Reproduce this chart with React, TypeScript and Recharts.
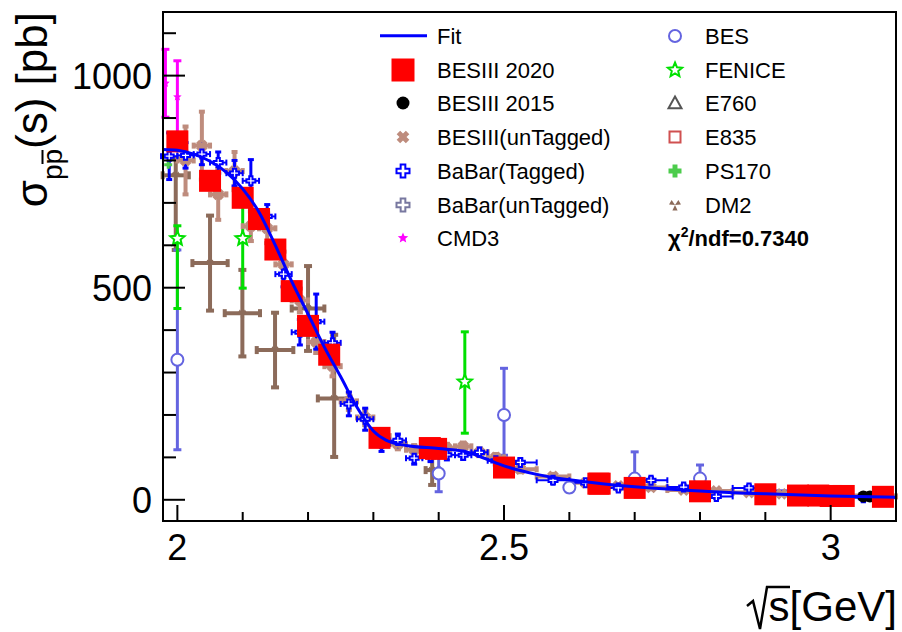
import React from 'react';
import { ComposedChart, Line, Scatter, XAxis, YAxis, ErrorBar } from 'recharts';

const W = 902;
const H = 632;
const PLOT = { left: 163, right: 896, top: 12, bottom: 521 };
const X_DOMAIN: [number, number] = [1.978, 3.1];
const Y_DOMAIN: [number, number] = [-50, 1150];
const X_TICKS = [2.0, 2.1, 2.2, 2.3, 2.4, 2.5, 2.6, 2.7, 2.8, 2.9, 3.0];
const X_MAJOR = [2, 2.5, 3];
const Y_TICKS = [0, 100, 200, 300, 400, 500, 600, 700, 800, 900, 1000, 1100];
const Y_MAJOR = [0, 500, 1000];
const FONT = '"Liberation Sans", Arial, Helvetica, sans-serif';

// Fit curve [sqrt(s), sigma]
const FIT: [number, number][] = [
  [1.978, 826], [2.0, 824], [2.025, 815], [2.05, 798], [2.075, 772], [2.1, 733],
  [2.125, 678], [2.15, 600], [2.175, 515], [2.2, 438], [2.225, 360], [2.25, 290],
  [2.275, 218], [2.3, 162], [2.32, 140], [2.35, 128], [2.4, 121], [2.44, 114],
  [2.47, 98], [2.5, 80], [2.55, 60], [2.6, 47], [2.65, 38], [2.7, 31], [2.8, 21],
  [2.9, 14], [3.0, 9], [3.1, 6],
];

// [x, y, ey]
const BESIII_2020: [number, number, number][] = [
  [2.0, 845, 20], [2.05, 752, 18], [2.1, 712, 16], [2.125, 662, 14], [2.15, 590, 14],
  [2.175, 492, 12], [2.2, 410, 12], [2.2324, 342, 10], [2.3094, 146, 6], [2.3864, 122, 6],
  [2.396, 120, 5], [2.5, 76, 5], [2.6444, 38, 2], [2.6464, 38, 2], [2.7, 28, 3],
  [2.8, 20, 3], [2.9, 13, 2], [2.95, 10, 2], [2.981, 10, 2], [3.0, 9, 2], [3.02, 9, 2], [3.08, 7, 1],
];

const BESIII_2015: [number, number][] = [
  [2.2324, 352], [2.4, 118], [2.8, 20], [3.05, 8], [3.06, 8], [3.08, 7],
];

// [x, y, ex, ey]
const BESIII_UNTAG: [number, number, number, number][] = [
  [2.0125, 800, 0.0125, 80], [2.0375, 835, 0.0125, 80], [2.0625, 720, 0.0125, 60],
  [2.0875, 775, 0.0125, 45], [2.1125, 645, 0.0125, 35], [2.1375, 640, 0.0125, 35],
  [2.1625, 555, 0.0125, 30], [2.1875, 470, 0.0125, 28], [2.2125, 372, 0.0125, 26],
  [2.2375, 315, 0.0125, 24], [2.2625, 232, 0.0125, 20], [2.2875, 194, 0.0125, 18],
  [2.3125, 150, 0.0125, 14], [2.3375, 131, 0.0125, 12], [2.3625, 118, 0.0125, 11],
  [2.3875, 120, 0.0125, 10], [2.4125, 122, 0.0125, 10], [2.4375, 126, 0.0125, 9],
  [2.4625, 112, 0.0125, 9], [2.4875, 100, 0.0125, 8], [2.525, 72, 0.025, 7],
  [2.575, 55, 0.025, 6], [2.625, 40, 0.025, 5], [2.675, 33, 0.025, 4],
  [2.725, 29, 0.025, 4], [2.775, 23, 0.025, 3], [2.825, 21, 0.025, 3],
  [2.875, 17, 0.025, 3], [2.925, 14, 0.025, 2], [2.975, 12, 0.025, 2],
  [3.025, 10, 0.025, 2], [3.075, 8, 0.025, 2],
];

const BABAR_TAG: [number, number, number, number][] = [
  [1.9875, 810, 0.0125, 55], [2.0125, 812, 0.0125, 30], [2.0375, 815, 0.0125, 25],
  [2.0625, 795, 0.0125, 25], [2.0875, 770, 0.0125, 30], [2.1125, 752, 0.0125, 50],
  [2.1375, 668, 0.0125, 28], [2.1625, 532, 0.0125, 30], [2.1875, 395, 0.0125, 30],
  [2.2125, 420, 0.0125, 65], [2.2375, 370, 0.0125, 25], [2.2625, 226, 0.0125, 28],
  [2.2875, 190, 0.0125, 26], [2.3125, 132, 0.0125, 18], [2.3375, 140, 0.0125, 15],
  [2.3625, 98, 0.0125, 14], [2.3875, 102, 0.0125, 12], [2.4125, 106, 0.0125, 12],
  [2.4375, 105, 0.0125, 10], [2.4625, 112, 0.0125, 10], [2.4875, 92, 0.0125, 10],
  [2.525, 88, 0.025, 9], [2.575, 46, 0.025, 7], [2.625, 40, 0.025, 6],
  [2.675, 28, 0.025, 5], [2.725, 46, 0.025, 6], [2.775, 30, 0.025, 5],
  [2.825, 8, 0.025, 5], [2.875, 28, 0.025, 5], [2.95, 22, 0.05, 5], [3.05, 5, 0.05, 4],
];

const BABAR_UNTAG: [number, number, number][] = [[3.0, 8, 2], [3.08, 6, 2]];

const CMD3: [number, number, number][] = [[1.9817, 982, 80], [2.0, 950, 85]];

// [x, y, errLow, errHigh]
const BES: [number, number, number, number][] = [
  [2.0, 330, 212, 259], [2.4, 62, 43, 39], [2.5, 200, 95, 110], [2.6, 29, 10, 10],
  [2.7, 50, 20, 63], [2.8, 50, 15, 32], [2.9, 12, 6, 6], [3.0, 9, 5, 5],
];

const FENICE: [number, number, number, number][] = [
  [2.0, 616, 165, 30], [2.1, 616, 117, 75], [2.44, 278, 121, 118],
];

const E760: [number, number][] = [[2.98, 11]];
const E835: [number, number][] = [[2.99, 10], [3.0, 9]];
const PS170: [number, number][] = [[1.986, 790]];

// [x, y, ex, errLow, errHigh]
const DM2: [number, number, number, number, number][] = [
  [1.9975, 765, 0.02, 176, 40], [2.05, 558, 0.027, 112, 112], [2.0995, 440, 0.027, 102, 102],
  [2.1495, 353, 0.028, 88, 88], [2.2, 451, 0.025, 100, 100], [2.24, 239, 0.025, 138, 150],
  [2.39, 70, 0.01, 35, 35],
];

const C = {
  fit: '#0000ff',
  b2020: '#ff0000',
  b2015: '#000000',
  untag: '#be8c7d',
  babarT: '#0000ff',
  babarU: '#7878a0',
  cmd3: '#ff00ff',
  bes: '#6464e0',
  fenice: '#00e000',
  e760: '#555555',
  e835: '#d05050',
  ps170: '#4ccc4c',
  dm2: '#8c6b5a',
};

function plusPts(cx: number, cy: number, L: number, a: number) {
  const p = [
    [-a, -L], [a, -L], [a, -a], [L, -a], [L, a], [a, a], [a, L], [-a, L], [-a, a], [-L, a], [-L, -a], [-a, -a],
  ];
  return p.map(([x, y]) => `${cx + x},${cy + y}`).join(' ');
}
function starPts(cx: number, cy: number, R: number, r: number) {
  const out: string[] = [];
  for (let i = 0; i < 10; i++) {
    const ang = -Math.PI / 2 + (i * Math.PI) / 5;
    const rr = i % 2 === 0 ? R : r;
    out.push(`${cx + rr * Math.cos(ang)},${cy + rr * Math.sin(ang)}`);
  }
  return out.join(' ');
}

function Marker({ kind, cx, cy, size, color }: { kind: string; cx: number; cy: number; size: number; color: string }) {
  const h = size / 2;
  if (cx == null || cy == null || isNaN(cx) || isNaN(cy)) return null;
  switch (kind) {
    case 'square':
      return <rect x={cx - h} y={cy - h} width={size} height={size} fill={color} />;
    case 'circle':
      return <circle cx={cx} cy={cy} r={h} fill={color} />;
    case 'ocircle':
      return <circle cx={cx} cy={cy} r={h - 1} fill="#fff" stroke={color} strokeWidth={2} />;
    case 'osquare':
      return <rect x={cx - h + 1} y={cy - h + 1} width={size - 2} height={size - 2} fill="#fff" stroke={color} strokeWidth={2} />;
    case 'otri':
      return <polygon points={`${cx},${cy - h} ${cx + h},${cy + h * 0.8} ${cx - h},${cy + h * 0.8}`} fill="#fff" stroke={color} strokeWidth={2} />;
    case 'xcross':
      return <polygon points={plusPts(cx, cy, h, h * 0.38)} transform={`rotate(45 ${cx} ${cy})`} fill={color} />;
    case 'ocross':
      return <polygon points={plusPts(cx, cy, h, h * 0.36)} fill="#fff" stroke={color} strokeWidth={2} />;
    case 'fcross':
      return <polygon points={plusPts(cx, cy, h, h * 0.38)} fill={color} />;
    case 'star':
      return <polygon points={starPts(cx, cy, h, h * 0.45)} fill={color} />;
    case 'ostar':
      return <polygon points={starPts(cx, cy, h, h * 0.45)} fill="#fff" stroke={color} strokeWidth={2} />;
    case 'dm2': {
      const blades = [210, 330, 90].map((deg) => {
        const a = (deg * Math.PI) / 180;
        const a1 = a - 0.45;
        const a2 = a + 0.45;
        return `M${cx},${cy} L${cx + h * Math.cos(a1)},${cy + h * Math.sin(a1)} L${cx + h * Math.cos(a2)},${cy + h * Math.sin(a2)} Z`;
      });
      return <path d={blades.join(' ')} fill={color} />;
    }
    default:
      return null;
  }
}

const shapeOf = (kind: string, size: number, color: string) => (p: any) => (
  <Marker kind={kind} cx={p.cx} cy={p.cy} size={size} color={color} />
);

const fmt = (v: number) => String(v);

const XTick = (p: any) => {
  const v = p.payload.value;
  const major = X_MAJOR.some((m) => Math.abs(m - v) < 1e-6);
  const x = p.x;
  return (
    <g>
      <line x1={x} x2={x} y1={PLOT.bottom} y2={PLOT.bottom - (major ? 16 : 9)} stroke="#000" strokeWidth={2} />
      {major && (
        <text x={x} y={560} textAnchor="middle" fontSize={36} fontFamily={FONT} fill="#000">
          {fmt(v)}
        </text>
      )}
    </g>
  );
};

const YTick = (p: any) => {
  const v = p.payload.value;
  const major = Y_MAJOR.includes(v);
  const y = p.y;
  return (
    <g>
      <line x1={PLOT.left} x2={PLOT.left + (major ? 22 : 13)} y1={y} y2={y} stroke="#000" strokeWidth={2} />
      {major && (
        <text x={152} y={y + 13} textAnchor="end" fontSize={36} fontFamily={FONT} fill="#000">
          {fmt(v)}
        </text>
      )}
    </g>
  );
};

const LEG_ROWS = [44, 78, 111, 145, 179, 213, 246];
const LEG_LEFT = [
  { label: 'Fit', kind: 'line', size: 0, color: C.fit },
  { label: 'BESIII 2020', kind: 'square', size: 23, color: C.b2020 },
  { label: 'BESIII 2015', kind: 'circle', size: 13, color: C.b2015 },
  { label: 'BESIII(unTagged)', kind: 'xcross', size: 13, color: C.untag },
  { label: 'BaBar(Tagged)', kind: 'ocross', size: 13, color: C.babarT },
  { label: 'BaBar(unTagged)', kind: 'ocross', size: 13, color: C.babarU },
  { label: 'CMD3', kind: 'star', size: 11, color: C.cmd3 },
];
const LEG_RIGHT = [
  { label: 'BES', kind: 'ocircle', size: 14, color: C.bes },
  { label: 'FENICE', kind: 'ostar', size: 15, color: C.fenice },
  { label: 'E760', kind: 'otri', size: 13, color: C.e760 },
  { label: 'E835', kind: 'osquare', size: 13, color: C.e835 },
  { label: 'PS170', kind: 'fcross', size: 13, color: C.ps170 },
  { label: 'DM2', kind: 'dm2', size: 12, color: C.dm2 },
];

export default function App() {
  const fitData = FIT.map(([x, y]) => ({ x, y }));
  const b2020 = BESIII_2020.map(([x, y, ey]) => ({ x, y, ey }));
  const b2015 = BESIII_2015.map(([x, y]) => ({ x, y }));
  const untag = BESIII_UNTAG.map(([x, y, ex, ey]) => ({ x, y, ex, ey }));
  const babT = BABAR_TAG.map(([x, y, ex, ey]) => ({ x, y, ex, ey }));
  const babU = BABAR_UNTAG.map(([x, y, ey]) => ({ x, y, ey }));
  const cmd3 = CMD3.map(([x, y, ey]) => ({ x, y, ey }));
  const bes = BES.map(([x, y, lo, hi]) => ({ x, y, ey: [lo, hi] }));
  const fen = FENICE.map(([x, y, lo, hi]) => ({ x, y, ey: [lo, hi] }));
  const e760 = E760.map(([x, y]) => ({ x, y }));
  const e835 = E835.map(([x, y]) => ({ x, y }));
  const ps170 = PS170.map(([x, y]) => ({ x, y }));
  const dm2 = DM2.map(([x, y, ex, lo, hi]) => ({ x, y, ex, ey: [lo, hi] }));

  const lineProps: any = { zIndex: 2000 };

  return (
    <div style={{ position: 'absolute', left: 0, top: 0, width: W, height: H, background: '#fff' }}>
      <ComposedChart
        width={W}
        height={H}
        margin={{ top: PLOT.top, right: W - PLOT.right, bottom: 0, left: 0 }}
      >
        <XAxis
          dataKey="x"
          type="number"
          domain={X_DOMAIN}
          allowDataOverflow
          ticks={X_TICKS}
          interval={0}
          height={H - PLOT.bottom}
          tick={(p: any) => <XTick {...p} />}
          tickLine={false}
          axisLine={{ stroke: '#000', strokeWidth: 2 }}
        />
        <YAxis
          type="number"
          domain={Y_DOMAIN}
          allowDataOverflow
          ticks={Y_TICKS}
          interval={0}
          width={PLOT.left}
          tick={(p: any) => <YTick {...p} />}
          tickLine={false}
          axisLine={{ stroke: '#000', strokeWidth: 2 }}
        />
        <Scatter data={dm2} dataKey="y" isAnimationActive={false} shape={shapeOf('dm2', 9, C.dm2)}>
          <ErrorBar dataKey="ey" direction="y" width={4} strokeWidth={4} stroke={C.dm2} />
          <ErrorBar dataKey="ex" direction="x" width={4} strokeWidth={4} stroke={C.dm2} />
        </Scatter>
        <Scatter data={bes} dataKey="y" isAnimationActive={false} shape={shapeOf('ocircle', 14, C.bes)}>
          <ErrorBar dataKey="ey" direction="y" width={4} strokeWidth={3} stroke={C.bes} />
        </Scatter>
        <Scatter data={fen} dataKey="y" isAnimationActive={false} shape={shapeOf('ostar', 15, C.fenice)}>
          <ErrorBar dataKey="ey" direction="y" width={4} strokeWidth={3} stroke={C.fenice} />
        </Scatter>
        <Scatter data={ps170} dataKey="y" isAnimationActive={false} shape={shapeOf('fcross', 8, C.ps170)} />
        <Scatter data={e760} dataKey="y" isAnimationActive={false} shape={shapeOf('otri', 12, C.e760)} />
        <Scatter data={e835} dataKey="y" isAnimationActive={false} shape={shapeOf('osquare', 12, C.e835)} />
        <Scatter data={babU} dataKey="y" isAnimationActive={false} shape={shapeOf('ocross', 10, C.babarU)}>
          <ErrorBar dataKey="ey" direction="y" width={3} strokeWidth={2} stroke={C.babarU} />
        </Scatter>
        <Scatter data={untag} dataKey="y" isAnimationActive={false} shape={shapeOf('xcross', 12, C.untag)}>
          <ErrorBar dataKey="ey" direction="y" width={3} strokeWidth={4} stroke={C.untag} />
          <ErrorBar dataKey="ex" direction="x" width={3} strokeWidth={4} stroke={C.untag} />
        </Scatter>
        <Scatter data={babT} dataKey="y" isAnimationActive={false} shape={shapeOf('ocross', 9, C.babarT)}>
          <ErrorBar dataKey="ey" direction="y" width={3} strokeWidth={3} stroke={C.babarT} />
          <ErrorBar dataKey="ex" direction="x" width={3} strokeWidth={2} stroke={C.babarT} />
        </Scatter>
        <Scatter data={cmd3} dataKey="y" isAnimationActive={false} shape={shapeOf('star', 9, C.cmd3)}>
          <ErrorBar dataKey="ey" direction="y" width={4} strokeWidth={3} stroke={C.cmd3} />
        </Scatter>
        <Scatter data={b2015} dataKey="y" isAnimationActive={false} shape={shapeOf('circle', 12, C.b2015)} />
        <Scatter data={b2020} dataKey="y" isAnimationActive={false} shape={shapeOf('square', 22, C.b2020)}>
          <ErrorBar dataKey="ey" direction="y" width={0} strokeWidth={2} stroke={C.b2020} />
        </Scatter>
        <Line
          data={fitData}
          dataKey="y"
          type="monotone"
          stroke={C.fit}
          strokeWidth={3}
          dot={false}
          activeDot={false}
          isAnimationActive={false}
          {...lineProps}
        />
      </ComposedChart>
      <svg
        width={W}
        height={H}
        style={{ position: 'absolute', left: 0, top: 0, pointerEvents: 'none' }}
      >
        <rect
          x={PLOT.left}
          y={PLOT.top}
          width={PLOT.right - PLOT.left}
          height={PLOT.bottom - PLOT.top}
          fill="none"
          stroke="#000"
          strokeWidth={2}
        />
        {/* Y axis title */}
        <text transform="translate(46.5,12) rotate(-90)" textAnchor="end" fontSize={44} fontFamily={FONT} fill="#000">
          σ<tspan fontSize={28} dy={15.5}>pp</tspan>
          <tspan dy={-15.5}>(s) [pb]</tspan>
        </text>
        <line x1={42.5} x2={42.5} y1={150} y2={164} stroke="#000" strokeWidth={2} />
        {/* X axis title */}
        <path d="M747,606 L753,601 L760,629 L767,587 L790,587" fill="none" stroke="#000" strokeWidth={2.5} />
        <text x={897} y={621} textAnchor="end" fontSize={42} fontFamily={FONT} fill="#000">
          s[GeV]
        </text>
        {/* Legend */}
        {LEG_LEFT.map((e, i) => (
          <g key={e.label}>
            {e.kind === 'line' ? (
              <line x1={380} x2={427} y1={LEG_ROWS[i] - 8.3} y2={LEG_ROWS[i] - 8.3} stroke={e.color} strokeWidth={3} />
            ) : (
              <Marker kind={e.kind} cx={403} cy={LEG_ROWS[i] - 8} size={e.size} color={e.color} />
            )}
            <text x={437} y={LEG_ROWS[i]} fontSize={22} fontFamily={FONT} fill="#000">
              {e.label}
            </text>
          </g>
        ))}
        {LEG_RIGHT.map((e, i) => (
          <g key={e.label}>
            <Marker kind={e.kind} cx={675} cy={LEG_ROWS[i] - 8} size={e.size} color={e.color} />
            <text x={705} y={LEG_ROWS[i]} fontSize={22} fontFamily={FONT} fill="#000">
              {e.label}
            </text>
          </g>
        ))}
        <text x={668} y={LEG_ROWS[6]} fontSize={22} fontWeight="bold" fontFamily={FONT} fill="#000">
          χ<tspan fontSize={14} dy={-9}>2</tspan>
          <tspan dy={9}>/ndf=0.7340</tspan>
        </text>
      </svg>
    </div>
  );
}
